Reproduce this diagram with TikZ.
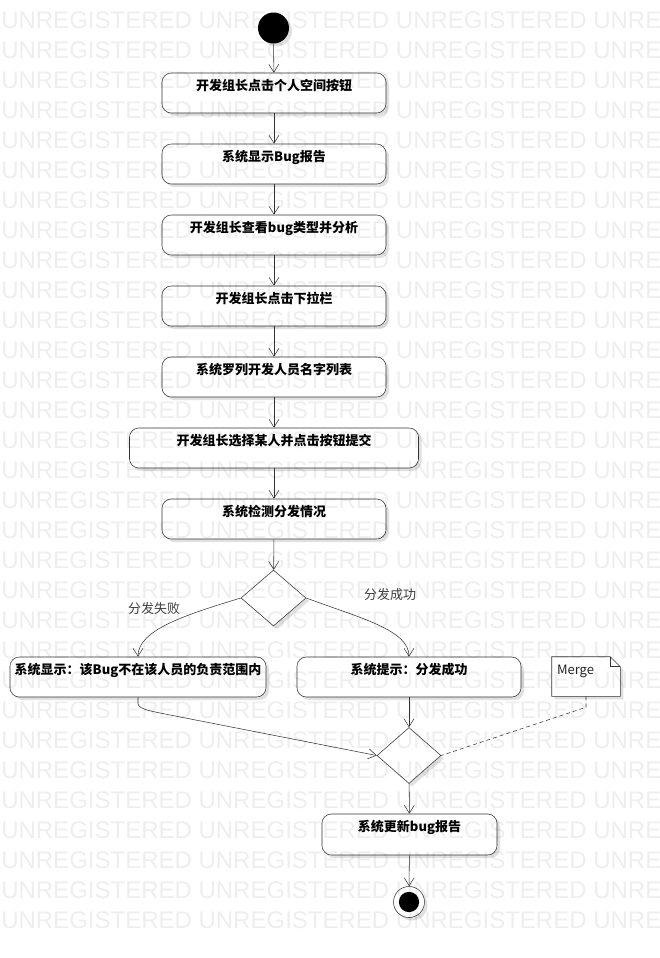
\documentclass[tikz,border=0pt]{standalone}
\usepackage{fontspec}
\setmainfont{Noto Sans CJK SC}
\newfontfamily\wmfont{Liberation Sans}
\usetikzlibrary{arrows.meta,shapes.geometric,shadows}
\pgfdeclarelayer{bglayer}
\pgfdeclarelayer{background}
\pgfdeclarelayer{wmlayer}
\pgfsetlayers{bglayer,background,main,wmlayer}
\begin{document}
\begin{tikzpicture}[x=0.75pt,y=-0.75pt, line width=0.75pt,
  shadowed/.style={drop shadow={shadow xshift=2.25pt, shadow yshift=-2.25pt, fill=black, opacity=0.12}},
  act/.style={draw=black!80, fill=white, rounded corners=7pt, minimum height=30pt,
    text height=12.75pt, text depth=17.25pt, inner ysep=0pt, inner xsep=0pt,
    font=\bfseries\fontsize{9.75pt}{11pt}\selectfont, shadowed},
  dec/.style={diamond, draw=black!80, fill=white, inner sep=0pt, minimum width=48.75pt, minimum height=42pt, shadowed},
  flow/.style={draw=black!80, -{Straight Barb[length=6pt,width=7.5pt]}},
  lab/.style={font=\fontsize{9.75pt}{11pt}\selectfont, text=black!75, inner sep=0pt},
  wm/.style={font=\wmfont\fontsize{18pt}{18pt}\selectfont, text=black, text opacity=0.065, inner sep=0pt, anchor=base west}]
\useasboundingbox (0,0) rectangle (660,958);
\begin{pgfonlayer}{bglayer}
  \fill[white] (0,0) rectangle (660,958);
\end{pgfonlayer}
\begin{pgfonlayer}{wmlayer}
  \begin{scope}
    \clip (0,0) rectangle (660,958);
    \foreach \r in {0,...,30} {
      \node[wm] (wm\r) at (1,28.5+30*\r) {UNREGISTERED UNREGISTERED UNREGISTERED UNREGISTERED};
    }
  \end{scope}
\end{pgfonlayer}

\node[circle, fill=black, minimum size=23.25pt, inner sep=0pt, shadowed] (start) at (273.5,28) {};

\node[act, minimum width=168pt] (b1) at (274,93) {开发组长点击个人空间按钮};
\node[act, minimum width=168pt] (b2) at (274,164) {系统显示Bug报告};
\node[act, minimum width=168pt] (b3) at (274,235) {开发组长查看bug类型并分析};
\node[act, minimum width=168pt] (b4) at (274,306) {开发组长点击下拉栏};
\node[act, minimum width=168pt] (b5) at (274,377) {系统罗列开发人员名字列表};
\node[act, minimum width=216.75pt] (b6) at (274,448) {开发组长选择某人并点击按钮提交};
\node[act, minimum width=168pt] (b7) at (274,519) {系统检测分发情况};

\node[dec] (d1) at (273.5,598) {};

\node[lab] (lfail) at (154,609) {分发失败};
\node[lab] (lok) at (390,595) {分发成功};

\node[act, minimum width=192pt] (bl) at (138,677) {系统显示：该Bug不在该人员的负责范围内};
\node[act, minimum width=168pt] (br) at (409,677) {系统提示：分发成功};

\node[minimum width=51pt, minimum height=29.25pt, text width=43.5pt, inner xsep=3.75pt, inner ysep=0pt,
  text height=12.75pt, text depth=16.5pt, align=left, font=\fontsize{9.75pt}{11pt}\selectfont, text=black!85] (note) at (586,676.5) {Merge};
\begin{pgfonlayer}{background}
  \path[draw=black!80, fill=white, shadowed] (note.north west) -- ([xshift=-7.5pt]note.north east)
    -- ([yshift=-7.5pt]note.north east) -- (note.south east) -- (note.south west) -- cycle;
  \draw[black!80] ([xshift=-7.5pt]note.north east) -- ([xshift=-7.5pt,yshift=-7.5pt]note.north east) -- ([yshift=-7.5pt]note.north east);
\end{pgfonlayer}

\node[dec, minimum width=48pt] (d2) at (409,755.5) {};

\node[act, minimum width=131.25pt, minimum height=30.75pt, text depth=18pt] (bu) at (409.5,834.5) {系统更新bug报告};

\node[circle, draw=black!80, fill=white, minimum size=23.25pt, inner sep=0pt, shadowed,
  path picture={\fill[black] (path picture bounding box.center) circle (7.6pt);}] (end) at (409,902) {};

\draw[flow] (start) -- (b1);
\draw[flow] (b1) -- (b2);
\draw[flow] (b2) -- (b3);
\draw[flow] (b3) -- (b4);
\draw[flow] (b4) -- (b5);
\draw[flow] (b5) -- (b6);
\draw[flow] (b6) -- (b7);
\draw[flow] (b7) -- (d1);
\draw[flow] (d1.west) .. controls (185,615) and (138,630) .. (bl.north);
\draw[flow] (d1.east) .. controls (360,618) and (409,630) .. (br.north);
\draw[flow] (br) -- (d2);
\draw[flow] (bl.south) -- ++(0,6) .. controls +(0,6) and +(-14,-3) .. (165,714) -- (d2.west);
\draw[black!80, dash pattern=on 3pt off 2.25pt] (note.south) -- ++(0,11) -- (d2.east);
\draw[flow] (d2) -- (bu);
\draw[flow] (bu) -- (end);
\end{tikzpicture}
\end{document}
